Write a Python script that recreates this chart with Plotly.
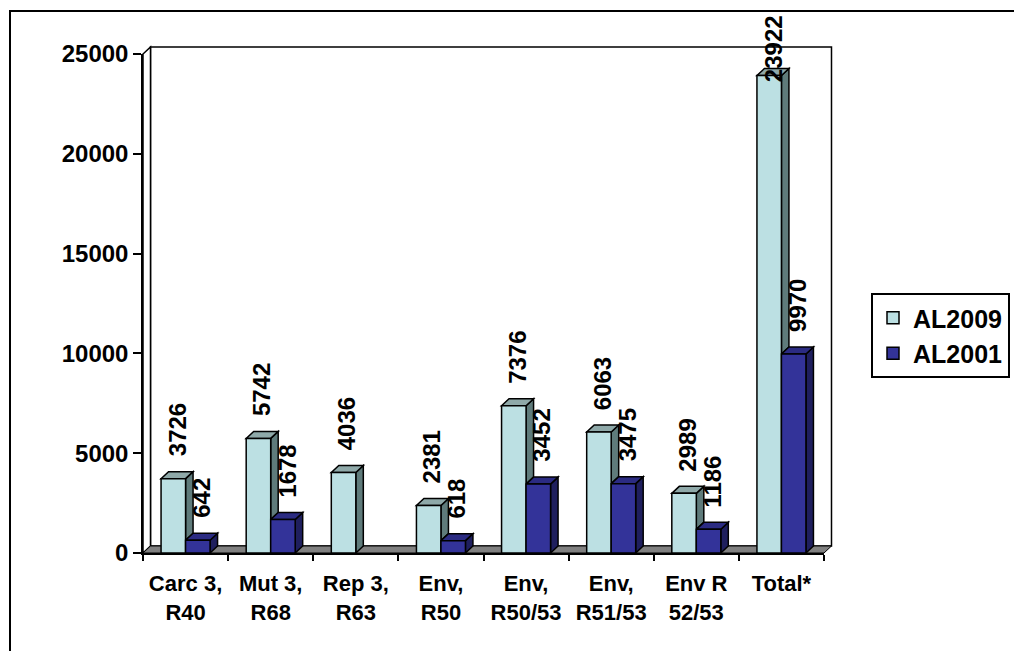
import plotly.graph_objects as go

categories = ["Carc 3,<br>R40", "Mut 3,<br>R68", "Rep 3,<br>R63", "Env,<br>R50",
              "Env,<br>R50/53", "Env,<br>R51/53", "Env R<br>52/53", "Total*"]
al2009 = [3726, 5742, 4036, 2381, 7376, 6063, 2989, 23922]
al2001 = [642, 1678, None, 618, 3452, 3475, 1186, 9970]
y_ticks = [0, 5000, 10000, 15000, 20000, 25000]

FONT = "Liberation Sans, Arial, sans-serif"
W_PX, H_PX = 1014, 651
L, R, T, B = 143, 190, 54, 98
YMAX = 25000
plot_w = W_PX - L - R
plot_h = H_PX - T - B
px_per_x = plot_w / len(categories)
px_per_y = plot_h / YMAX

BW = 24.5 / px_per_x          # bar width (category units)
DX = 7.5 / px_per_x           # 3D depth in x
DY = 7.0 / px_per_y           # 3D depth in y

LIGHT = dict(front="#BCE0E3", side="#5F7B7B", top="#8FA9A9")
DARK = dict(front="#333399", side="#1F1F5E", top="#2B2B82")

fig = go.Figure()
idx = list(range(len(categories)))
fig.add_trace(go.Bar(x=idx, y=al2009, name="AL2009", width=BW, offset=-BW,
                     marker=dict(color=LIGHT["front"], line=dict(color="black", width=1.5)),
                     legendgroup="a"))
fig.add_trace(go.Bar(x=idx, y=al2001, name="AL2001", width=BW, offset=0,
                     marker=dict(color=DARK["front"], line=dict(color="black", width=1.5)),
                     legendgroup="b"))

shapes = []

def P(x, y):
    return ((x + 0.5) / len(categories), y / YMAX)

def ppath(pts):
    s = ""
    for k, (x, y) in enumerate(pts):
        px, py = P(x, y)
        s += ("M" if k == 0 else "L") + f"{px:.5f},{py:.5f} "
    return s + "Z"

xl, xr = -0.5, len(categories) - 0.5
# back wall
shapes.append(dict(type="path", xref="paper", yref="paper", layer="below",
                   path=ppath([(xl + DX, DY), (xl + DX, YMAX + DY), (xr + DX, YMAX + DY), (xr + DX, DY)]),
                   fillcolor="white", line=dict(color="black", width=1.5)))
# left wall
shapes.append(dict(type="path", xref="paper", yref="paper", layer="below",
                   path=ppath([(xl, 0), (xl, YMAX), (xl + DX, YMAX + DY), (xl + DX, DY)]),
                   fillcolor="white", line=dict(color="black", width=1.5)))
# floor
shapes.append(dict(type="path", xref="paper", yref="paper", layer="below",
                   path=ppath([(xl, 0), (xr, 0), (xr + DX, DY), (xl + DX, DY)]),
                   fillcolor="#808080", line=dict(color="black", width=1)))


def dpath(pts):
    s = ""
    for k, (x, y) in enumerate(pts):
        s += ("M" if k == 0 else "L") + f"{x:.5f},{y:.3f} "
    return s + "Z"


for i in idx:
    v = al2009[i]
    d = al2001[i] or 0
    x0, x1 = i - BW, i
    shapes.append(dict(type="path", xref="x", yref="y", layer="below",
                       path=dpath([(x1, d), (x1, v), (x1 + DX, v + DY), (x1 + DX, d + DY)]),
                       fillcolor=LIGHT["side"], line=dict(color="black", width=1.5)))
    shapes.append(dict(type="path", xref="x", yref="y", layer="below",
                       path=dpath([(x0, v), (x1, v), (x1 + DX, v + DY), (x0 + DX, v + DY)]),
                       fillcolor=LIGHT["top"], line=dict(color="black", width=1.5)))
    if al2001[i] is not None:
        x0, x1 = i, i + BW
        shapes.append(dict(type="path", xref="x", yref="y", layer="below",
                           path=dpath([(x1, 0), (x1, d), (x1 + DX, d + DY), (x1 + DX, DY)]),
                           fillcolor=DARK["side"], line=dict(color="black", width=1.5)))
        shapes.append(dict(type="path", xref="x", yref="y", layer="below",
                           path=dpath([(x0, d), (x1, d), (x1 + DX, d + DY), (x0 + DX, d + DY)]),
                           fillcolor=DARK["top"], line=dict(color="black", width=1.5)))

# outer chart border
bx0, bx1 = (10 - L) / plot_w, (W_PX + 20 - L) / plot_w
by1, by0 = (H_PX - B - 11) / plot_h, (H_PX - B - (H_PX + 20)) / plot_h
shapes.append(dict(type="rect", xref="paper", yref="paper", layer="above",
                   x0=bx0, x1=bx1, y0=by0, y1=by1, line=dict(color="black", width=2),
                   fillcolor="rgba(0,0,0,0)"))

# data labels
LABEL_SIZE = 24
GAP = 20
annotations = []

def add_label(xc, v):
    txt = str(v)
    top_px = T + (YMAX - v) * px_per_y
    length = len(txt) * LABEL_SIZE * 0.556
    shift = GAP
    if top_px - shift - length < 17:
        shift = top_px - 17 - length
    annotations.append(dict(x=xc, y=v, xref="x", yref="y", text=txt, showarrow=False,
                            textangle=-90, xanchor="center", yanchor="bottom", yshift=shift,
                            font=dict(family=FONT, size=LABEL_SIZE, color="black", weight="bold")))

for i in idx:
    add_label(i - BW + (BW + DX) / 2, al2009[i])
    if al2001[i] is not None:
        add_label(i + (BW + DX) / 2, al2001[i])

fig.update_layout(
    width=W_PX, height=H_PX,
    margin=dict(l=L, r=R, t=T, b=B, pad=0),
    paper_bgcolor="white", plot_bgcolor="rgba(0,0,0,0)",
    barmode="overlay",
    shapes=shapes, annotations=annotations,
    font=dict(family=FONT, color="black"),
    xaxis=dict(range=[xl, xr], tickmode="array", tickvals=idx, ticktext=categories,
               showgrid=False, zeroline=False, showline=True, linecolor="black", linewidth=1.5,
               ticks="", ticklabelstandoff=10,
               minor=dict(tickmode="array", tickvals=[k - 0.5 for k in range(len(categories) + 1)],
                          ticks="outside", ticklen=6, tickwidth=1.5, tickcolor="black", showgrid=False),
               tickfont=dict(family=FONT, size=22, color="black", weight="bold")),
    yaxis=dict(range=[0, YMAX], tickmode="array", tickvals=y_ticks, ticktext=[str(t) for t in y_ticks],
               showgrid=False, zeroline=False, showline=True, linecolor="black", linewidth=1.5,
               ticks="outside", ticklen=8, tickwidth=1.5, tickcolor="black",
               tickfont=dict(family=FONT, size=24, color="black", weight="bold")),
    legend=dict(xref="container", yref="container", x=871 / W_PX, y=1 - 293 / H_PX,
                xanchor="left", yanchor="top", bordercolor="black", borderwidth=2,
                bgcolor="white", traceorder="grouped", tracegroupgap=0, itemwidth=30,
                font=dict(family=FONT, size=25, color="black", weight="bold")),
)

fig.write_html("out.html", config={"displayModeBar": False},
               post_script="document.body.style.margin='0';document.body.style.overflow='hidden';")
